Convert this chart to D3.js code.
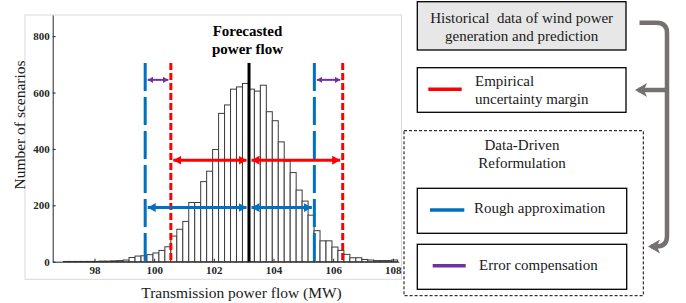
<!DOCTYPE html>
<html>
<head>
<meta charset="utf-8">
<script src="https://cdn.jsdelivr.net/npm/d3@7"></script>
<style>
  body { margin: 0; background: #fff; }
  svg { display: block; font-family: "Liberation Serif", "Times New Roman", serif; }
  .axis path, .axis line { stroke: #262626; stroke-width: 1; }
  .axis text { font-family: "Liberation Serif", serif; font-weight: bold; font-size: 11px; fill: #262626; }
  .pre { white-space: pre; }
</style>
</head>
<body>
<div id="chart"></div>
<script>
// histogram: bins of 0.2 MW starting at 96.76 MW, counts
const binStart = 96.76;
const binWidth = 0.2;
const counts = [
  0, 1, 1, 1, 1, 1, 1, 2, 2, 3, 4, 6, 15, 20, 21, 25, 31, 40, 53,
  91, 115, 143, 210, 210, 284, 321, 398, 526, 556, 612, 620, 632,
  612, 605, 626, 532, 500, 425, 357, 316, 254, 215, 165,
  110, 74, 74, 52, 40,
  26, 14, 14, 8, 6, 4, 4, 4, 6
];
const xTicks = [98, 100, 102, 104, 106, 108];
const yTicks = [0, 200, 400, 600, 800];

// markers on the histogram (MW) and heights (scenarios)
const forecast = 103.18;
const roughBounds = [99.7, 105.37];
const empiricalBounds = [100.56, 106.32];
const markerTop = 705;
const empiricalArrowY = 360;
const roughArrowY = 192;
const compensationArrowY = 645;

// texts
const titleLines = ["Forecasted", "power flow"];
const xLabel = "Transmission power flow (MW)";
const yLabel = "Number of scenarios";
const sourceLines = ["Historical  data of wind power", "generation and prediction"];
const empiricalLines = ["Empirical", "uncertainty margin"];
const reformLines = ["Data-Driven", "Reformulation"];
const roughLabel = "Rough approximation";
const compensationLabel = "Error compensation";

const RED = "#ff0000", BLUE = "#0070c0", PURPLE = "#7030a0", GREY = "#767171";

const svg = d3.select("#chart").append("svg")
  .attr("width", 686).attr("height", 303);

// marker heads
const defs = svg.append("defs");
function head(id, color, len, half) {
  defs.append("marker")
    .attr("id", id)
    .attr("markerUnits", "userSpaceOnUse")
    .attr("viewBox", `${-len} ${-half} ${len} ${half * 2}`)
    .attr("refX", 0).attr("refY", 0)
    .attr("markerWidth", len).attr("markerHeight", half * 2)
    .attr("orient", "auto-start-reverse")
    .append("path")
    .attr("d", `M0,0 L${-len},${-half} L${-len},${half} Z`)
    .attr("fill", color);
}
head("hRed", RED, 8, 4.5);
head("hBlue", BLUE, 8, 4.5);
head("hPurple", PURPLE, 5.5, 3.2);
defs.append("marker")
  .attr("id", "hGrey")
  .attr("markerUnits", "userSpaceOnUse")
  .attr("viewBox", "-12 -7 12 14")
  .attr("refX", -3).attr("refY", 0)
  .attr("markerWidth", 12).attr("markerHeight", 14)
  .attr("orient", "auto")
  .append("path")
  .attr("d", "M0,0 L-12,-7 L-9,0 L-12,7 Z")
  .attr("fill", GREY);

// light frame around the chart picture
svg.append("rect")
  .attr("x", 25).attr("y", 15).attr("width", 376.5).attr("height", 264.3)
  .attr("fill", "none").attr("stroke", "#d9d9d9").attr("stroke-width", 1);

const x = d3.scaleLinear().domain([96.6, 108.2]).range([52.7, 398.8]);
const y = d3.scaleLinear().domain([0, 875]).range([261.7, 15]);

// bars
const bins = counts.map((c, i) => ({ x0: binStart + i * binWidth, x1: binStart + (i + 1) * binWidth, c: c }))
  .filter(d => d.c > 0);
svg.append("g").selectAll("rect").data(bins).join("rect")
  .attr("x", d => x(d.x0))
  .attr("width", d => x(d.x1) - x(d.x0))
  .attr("y", d => y(d.c))
  .attr("height", d => y(0) - y(d.c))
  .attr("fill", "#fff")
  .attr("stroke", "#3c3c3c")
  .attr("stroke-width", 1);

// axes
svg.append("g").attr("class", "axis")
  .attr("transform", `translate(0,${y(0)})`)
  .call(d3.axisBottom(x).tickValues(xTicks).tickSizeInner(-3).tickSizeOuter(0).tickPadding(5))
  .attr("font-family", "Liberation Serif");
svg.append("g").attr("class", "axis")
  .attr("transform", `translate(${x.range()[0]},0)`)
  .call(d3.axisLeft(y).tickValues(yTicks).tickSizeInner(-3).tickSizeOuter(0).tickPadding(3))
  .attr("font-family", "Liberation Serif");

// vertical markers
const vlines = [
  { v: roughBounds[0], color: BLUE, dash: "28,6" },
  { v: roughBounds[1], color: BLUE, dash: "28,6" },
  { v: empiricalBounds[0], color: RED, dash: "7,3" },
  { v: empiricalBounds[1], color: RED, dash: "7,3" },
  { v: forecast, color: "#000", dash: null }
];
svg.append("g").selectAll("line").data(vlines).join("line")
  .attr("x1", d => x(d.v)).attr("x2", d => x(d.v))
  .attr("y1", y(markerTop)).attr("y2", y(0))
  .attr("stroke", d => d.color)
  .attr("stroke-width", 3)
  .attr("stroke-dasharray", d => d.dash);

// double arrows between markers
const gap = 2.5;
const arrows = [
  { a: empiricalBounds[0], b: forecast, h: empiricalArrowY, color: RED, m: "hRed", w: 3 },
  { a: forecast, b: empiricalBounds[1], h: empiricalArrowY, color: RED, m: "hRed", w: 3 },
  { a: roughBounds[0], b: forecast, h: roughArrowY, color: BLUE, m: "hBlue", w: 3 },
  { a: forecast, b: roughBounds[1], h: roughArrowY, color: BLUE, m: "hBlue", w: 3 },
  { a: roughBounds[0], b: empiricalBounds[0], h: compensationArrowY, color: PURPLE, m: "hPurple", w: 2 },
  { a: roughBounds[1], b: empiricalBounds[1], h: compensationArrowY, color: PURPLE, m: "hPurple", w: 2 }
];
svg.append("g").selectAll("line").data(arrows).join("line")
  .attr("x1", d => x(d.a) + gap).attr("x2", d => x(d.b) - gap)
  .attr("y1", d => y(d.h)).attr("y2", d => y(d.h))
  .attr("stroke", d => d.color)
  .attr("stroke-width", d => d.w)
  .attr("marker-start", d => `url(#${d.m})`)
  .attr("marker-end", d => `url(#${d.m})`);

// title over the forecast line
svg.append("g").selectAll("text").data(titleLines).join("text")
  .attr("x", x(forecast) - 1.5)
  .attr("y", (d, i) => 35.5 + i * 18)
  .attr("text-anchor", "middle")
  .attr("font-weight", "bold")
  .attr("font-size", 15)
  .text(d => d);

// axis labels
svg.append("text")
  .attr("x", 241.5).attr("y", 297.7)
  .attr("text-anchor", "middle")
  .attr("font-size", 15.5)
  .attr("fill", "#1a1a1a")
  .text(xLabel);
svg.append("text")
  .attr("transform", "translate(25,125) rotate(-90)")
  .attr("text-anchor", "middle")
  .attr("font-size", 15.5)
  .attr("fill", "#1a1a1a")
  .text(yLabel);

// right side: flow chart
const side = svg.append("g");
function box(x0, y0, x1, y1, fill) {
  side.append("rect")
    .attr("x", x0).attr("y", y0).attr("width", x1 - x0).attr("height", y1 - y0)
    .attr("fill", fill).attr("stroke", "#000").attr("stroke-width", 1.3);
}
function key(x0, x1, yy, color) {
  side.append("line")
    .attr("x1", x0).attr("x2", x1).attr("y1", yy).attr("y2", yy)
    .attr("stroke", color).attr("stroke-width", 3.5);
}
function lines(arr, xx, y0, anchor) {
  side.append("g").selectAll("text").data(arr).join("text")
    .attr("class", "pre")
    .attr("x", xx).attr("y", (d, i) => y0 + i * 18)
    .attr("text-anchor", anchor)
    .attr("font-size", 15)
    .attr("fill", "#1a1a1a")
    .text(d => d);
}

side.append("rect")
  .attr("x", 404).attr("y", 130.7).attr("width", 239.3).attr("height", 165)
  .attr("fill", "none").attr("stroke", "#000").attr("stroke-width", 1)
  .attr("stroke-dasharray", "3,2");

box(417.3, 1.7, 626, 50, "#e7e7e7");
lines(sourceLines, 521.7, 22.7, "middle");

box(417.3, 67.7, 626, 112.3, "#fff");
key(428.3, 461.7, 89.3, RED);
lines(empiricalLines, 475, 86, "start");

lines(reformLines, 522, 150, "middle");

box(417.3, 188.3, 626.7, 233.3, "#fff");
key(430, 464.3, 210, BLUE);
lines([roughLabel], 474, 213.3, "start");

box(417.3, 244.3, 626.7, 289.3, "#fff");
key(432.7, 465.7, 265.7, PURPLE);
lines([compensationLabel], 479, 270, "start");

// grey bracket arrow
side.append("path")
  .attr("d", "M639.5,22.7 H656.5 Q667,22.7 667,33 V236 Q667,246.5 656.5,246.5 H651")
  .attr("fill", "none").attr("stroke", GREY).attr("stroke-width", 4.5)
  .attr("marker-end", "url(#hGrey)");
side.append("path")
  .attr("d", "M667,90 H638")
  .attr("fill", "none").attr("stroke", GREY).attr("stroke-width", 4.5)
  .attr("marker-end", "url(#hGrey)");
</script>
</body>
</html>
